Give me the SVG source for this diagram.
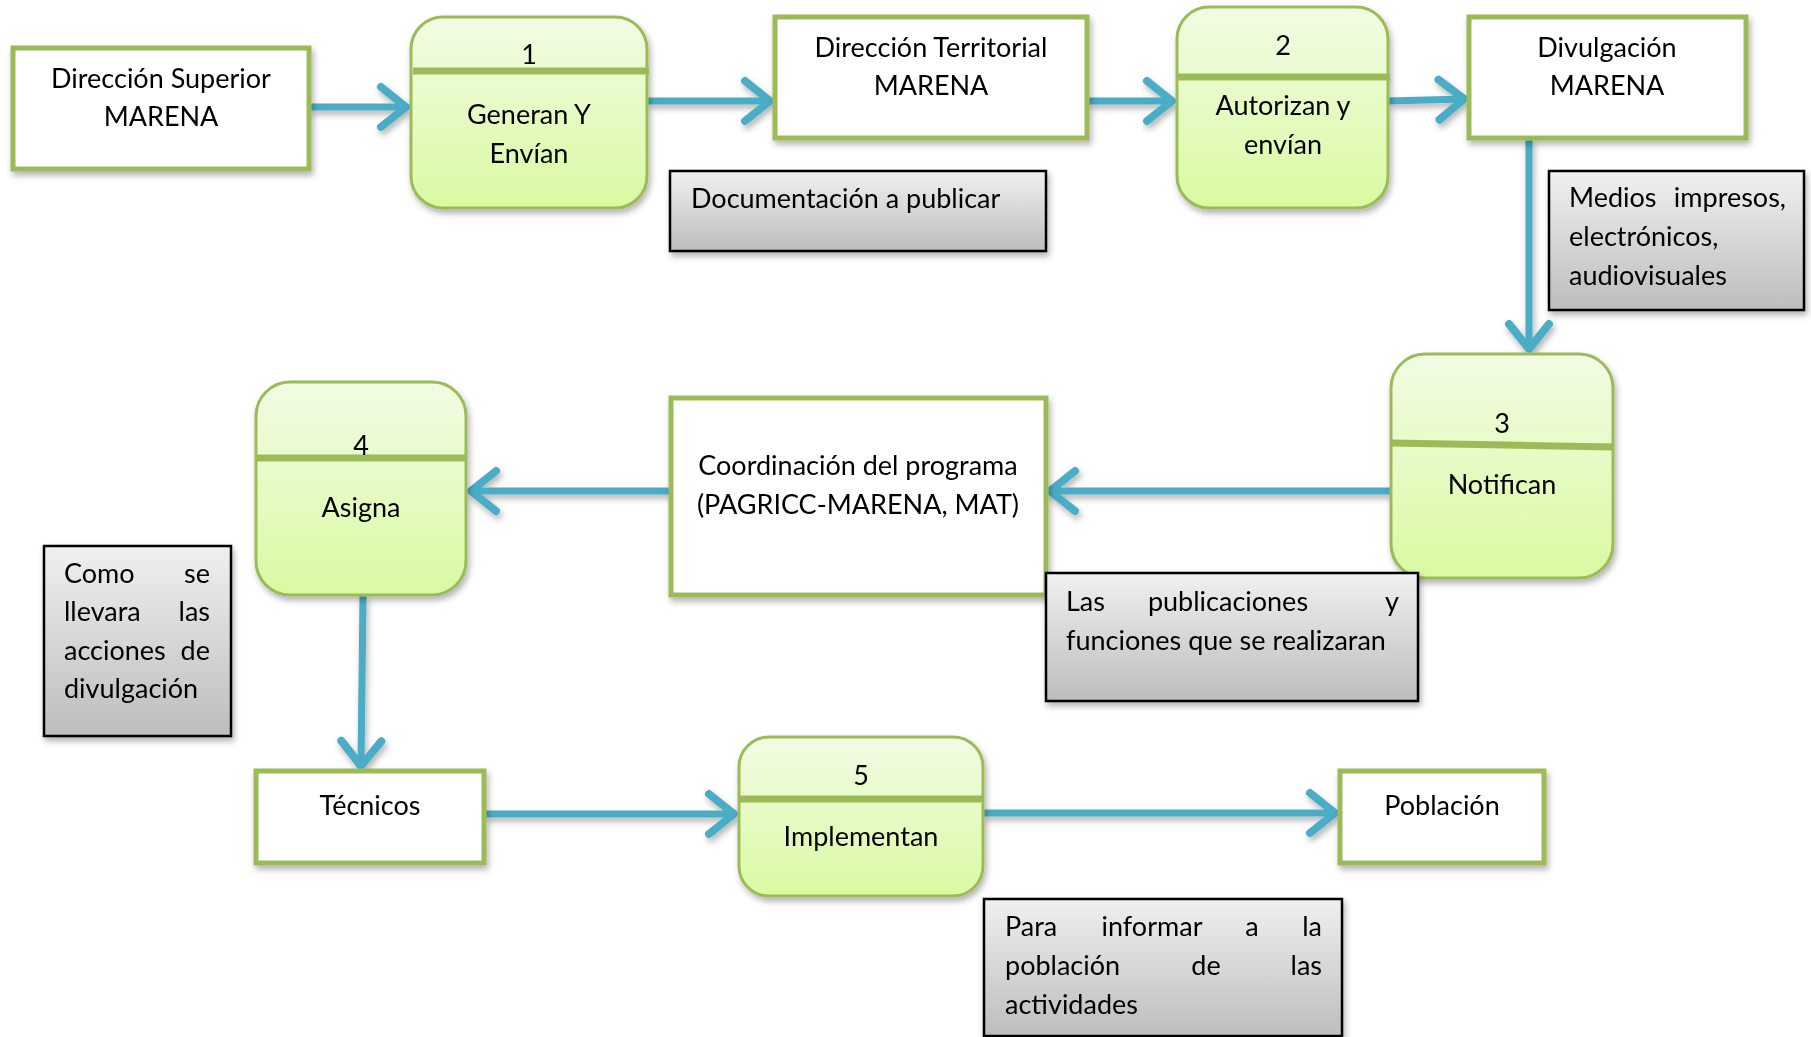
<svg xmlns="http://www.w3.org/2000/svg" width="1811" height="1037" viewBox="0 0 1811 1037">
<defs>
<linearGradient id="gGreen" x1="0" y1="0" x2="0" y2="1">
<stop offset="0" stop-color="#F1FCE4"/>
<stop offset="1" stop-color="#D9FAA2"/>
</linearGradient>
<linearGradient id="gGray" x1="0" y1="0" x2="0" y2="1">
<stop offset="0" stop-color="#F0F0F0"/>
<stop offset="1" stop-color="#BDBDBD"/>
</linearGradient>
<filter id="sh" x="-10%" y="-10%" width="130%" height="140%">
<feDropShadow dx="2" dy="4" stdDeviation="3" flood-color="#000" flood-opacity="0.3"/>
</filter>
<marker id="arr" markerUnits="userSpaceOnUse" viewBox="-40 -30 50 60" markerWidth="50" markerHeight="60" refX="0" refY="0" orient="auto" overflow="visible">
<path d="M-25,-20 L0,0 L-25,20" fill="none" stroke="#4BACC6" stroke-width="8" stroke-linecap="round" stroke-linejoin="round"/>
</marker>
<style>
.box{fill:#fff;stroke:#9BBB59;stroke-width:5}
.proc{fill:url(#gGreen);stroke:#9BBB59;stroke-width:3}
.div{stroke:#9BBB59;stroke-width:7}
.note{fill:url(#gGray);stroke:#000;stroke-width:2.5}
.t{font-family:Lato,"Open Sans",sans-serif;font-size:27px;fill:#000}
.c{text-anchor:middle}
.e{text-anchor:end}
.con{fill:none;stroke:#4BACC6;stroke-width:7;marker-end:url(#arr)}
</style>
</defs>
<rect width="1811" height="1037" fill="#fff"/>

<g id="connectors" filter="url(#sh)">
<path class="con" d="M310,107 L406,107"/>
<path class="con" d="M648,101 L770,101"/>
<path class="con" d="M1088,101 L1172,101"/>
<path class="con" d="M1389,101 L1464,99"/>
<path class="con" d="M1529,139 L1529,349"/>
<path class="con" d="M1391,491 L1050,491"/>
<path class="con" d="M670,491 L471,491"/>
<path class="con" d="M363,596 L361,766"/>
<path class="con" d="M485,814 L734,814"/>
<path class="con" d="M983,813 L1335,813"/>
</g>

<g id="n-dir-superior" filter="url(#sh)">
<rect class="box" x="13" y="48" width="296" height="121"/>
<text class="t c" x="161" y="88">Dirección Superior</text>
<text class="t c" x="161" y="126">MARENA</text>
</g>

<g id="n-generan" filter="url(#sh)">
<rect class="proc" x="411" y="17" width="236" height="191" rx="32"/>
<line class="div" x1="413" y1="71" x2="649" y2="71"/>
<text class="t c" x="529" y="64">1</text>
<text class="t c" x="529" y="124">Generan Y</text>
<text class="t c" x="529" y="163">Envían</text>
</g>

<g id="n-dir-territorial" filter="url(#sh)">
<rect class="box" x="775" y="17" width="312" height="121"/>
<text class="t c" x="931" y="57">Dirección Territorial</text>
<text class="t c" x="931" y="95">MARENA</text>
</g>

<g id="n-autorizan" filter="url(#sh)">
<rect class="proc" x="1177" y="7" width="211" height="201" rx="32"/>
<line class="div" x1="1177" y1="77" x2="1390" y2="77"/>
<text class="t c" x="1283" y="55">2</text>
<text class="t c" x="1283" y="115">Autorizan y</text>
<text class="t c" x="1283" y="154">envían</text>
</g>

<g id="n-divulgacion" filter="url(#sh)">
<rect class="box" x="1469" y="17" width="277" height="121"/>
<text class="t c" x="1607" y="57">Divulgación</text>
<text class="t c" x="1607" y="95">MARENA</text>
</g>

<g id="n-doc" filter="url(#sh)">
<rect class="note" x="670" y="171" width="376" height="80"/>
<text class="t" x="691" y="208">Documentación a publicar</text>
</g>

<g id="n-medios" filter="url(#sh)">
<rect class="note" x="1549" y="171" width="255" height="139"/>
<text class="t" x="1569" y="207">Medios</text>
<text class="t e" x="1786" y="207">impresos,</text>
<text class="t" x="1569" y="246">electrónicos,</text>
<text class="t" x="1569" y="285">audiovisuales</text>
</g>

<g id="n-notifican" filter="url(#sh)">
<rect class="proc" x="1391" y="354" width="222" height="224" rx="34"/>
<line class="div" x1="1391" y1="443" x2="1614" y2="447"/>
<text class="t c" x="1502" y="433">3</text>
<text class="t c" x="1502" y="494">Notifican</text>
</g>

<g id="n-coordinacion" filter="url(#sh)">
<rect class="box" x="671" y="398" width="375" height="197"/>
<text class="t c" x="858" y="475">Coordinación del programa</text>
<text class="t c" x="858" y="514">(PAGRICC-MARENA, MAT)</text>
</g>

<g id="n-publicaciones" filter="url(#sh)">
<rect class="note" x="1046" y="573" width="372" height="128"/>
<text class="t" x="1066" y="611">Las</text>
<text class="t c" x="1228" y="611">publicaciones</text>
<text class="t e" x="1399" y="611">y</text>
<text class="t" x="1066" y="650">funciones que se realizaran</text>
</g>

<g id="n-asigna" filter="url(#sh)">
<rect class="proc" x="256" y="382" width="210" height="213" rx="34"/>
<line class="div" x1="256" y1="458" x2="467" y2="458"/>
<text class="t c" x="361" y="455">4</text>
<text class="t c" x="361" y="517">Asigna</text>
</g>

<g id="n-como" filter="url(#sh)">
<rect class="note" x="44" y="546" width="187" height="190"/>
<text class="t" x="64" y="583">Como</text>
<text class="t e" x="210" y="583">se</text>
<text class="t" x="64" y="621">llevara</text>
<text class="t e" x="210" y="621">las</text>
<text class="t" x="64" y="660">acciones</text>
<text class="t e" x="210" y="660">de</text>
<text class="t" x="64" y="698">divulgación</text>
</g>

<g id="n-tecnicos" filter="url(#sh)">
<rect class="box" x="256" y="771" width="228" height="92"/>
<text class="t c" x="370" y="815">Técnicos</text>
</g>

<g id="n-implementan" filter="url(#sh)">
<rect class="proc" x="739" y="737" width="244" height="159" rx="30"/>
<line class="div" x1="739" y1="799" x2="983" y2="799"/>
<text class="t c" x="861" y="785">5</text>
<text class="t c" x="861" y="846">Implementan</text>
</g>

<g id="n-poblacion" filter="url(#sh)">
<rect class="box" x="1340" y="771" width="204" height="92"/>
<text class="t c" x="1442" y="815">Población</text>
</g>

<g id="n-para" filter="url(#sh)">
<rect class="note" x="984" y="899" width="358" height="137"/>
<text class="t" x="1005" y="936">Para</text>
<text class="t c" x="1152" y="936">informar</text>
<text class="t c" x="1252" y="936">a</text>
<text class="t e" x="1322" y="936">la</text>
<text class="t" x="1005" y="975">población</text>
<text class="t c" x="1206" y="975">de</text>
<text class="t e" x="1322" y="975">las</text>
<text class="t" x="1005" y="1014">actividades</text>
</g>
</svg>
